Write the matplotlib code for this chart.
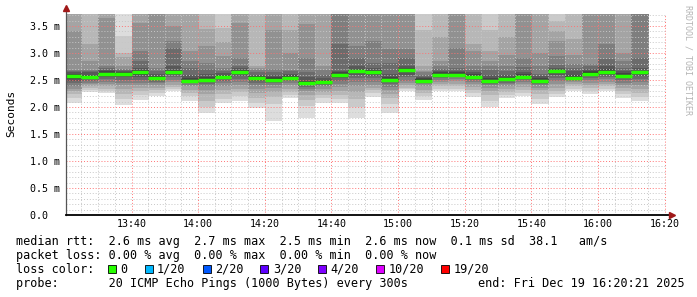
import datetime as dt

import matplotlib
matplotlib.use("Agg")
import matplotlib.pyplot as plt
import matplotlib.dates as mdates
from matplotlib.patches import Rectangle
from matplotlib.ticker import MultipleLocator, FuncFormatter
import numpy as np
import pandas as pd

# 20 sorted ping rtts (ms) for every 5 minute slot, first slot starts 13:20
pings = [
    [2.07, 2.17, 2.24, 2.30, 2.33, 2.38, 2.44, 2.48, 2.52, 2.56, 2.58, 2.61, 2.64, 2.67, 2.69, 3.41, 3.90, 4.10, 4.40, 4.80],
    [2.28, 2.31, 2.35, 2.38, 2.42, 2.45, 2.48, 2.51, 2.53, 2.55, 2.57, 2.60, 2.64, 2.67, 2.69, 2.85, 3.16, 3.90, 4.20, 4.60],
    [2.26, 2.30, 2.34, 2.38, 2.42, 2.47, 2.51, 2.55, 2.58, 2.61, 2.63, 2.66, 2.69, 2.72, 2.75, 3.65, 3.90, 4.10, 4.40, 4.70],
    [2.04, 2.15, 2.24, 2.33, 2.40, 2.44, 2.50, 2.55, 2.58, 2.60, 2.62, 2.64, 2.66, 2.68, 2.70, 2.76, 2.92, 3.00, 3.31, 3.90],
    [2.13, 2.23, 2.30, 2.36, 2.40, 2.45, 2.50, 2.55, 2.60, 2.63, 2.66, 2.69, 2.72, 2.85, 3.03, 3.56, 3.90, 4.10, 4.40, 4.80],
    [2.20, 2.26, 2.31, 2.36, 2.40, 2.44, 2.47, 2.50, 2.52, 2.53, 2.55, 2.58, 2.62, 2.66, 2.72, 3.90, 4.00, 4.20, 4.50, 4.90],
    [2.29, 2.33, 2.37, 2.41, 2.46, 2.50, 2.55, 2.59, 2.62, 2.64, 2.66, 2.69, 2.76, 3.10, 3.22, 3.50, 3.90, 4.10, 4.40, 4.80],
    [2.11, 2.20, 2.26, 2.32, 2.38, 2.41, 2.44, 2.46, 2.47, 2.48, 2.50, 2.53, 2.60, 2.72, 2.85, 3.03, 3.90, 4.10, 4.40, 4.80],
    [1.88, 2.00, 2.12, 2.24, 2.32, 2.38, 2.43, 2.46, 2.48, 2.50, 2.52, 2.56, 2.62, 2.70, 2.82, 3.13, 3.45, 3.90, 4.20, 4.60],
    [2.07, 2.15, 2.24, 2.32, 2.38, 2.44, 2.49, 2.52, 2.54, 2.56, 2.58, 2.60, 2.63, 2.67, 2.72, 2.95, 3.20, 3.46, 3.90, 4.40],
    [2.11, 2.20, 2.27, 2.34, 2.40, 2.46, 2.52, 2.57, 2.61, 2.64, 2.66, 2.68, 2.72, 2.75, 2.91, 3.56, 3.90, 4.10, 4.40, 4.80],
    [1.98, 2.08, 2.17, 2.26, 2.33, 2.40, 2.45, 2.49, 2.51, 2.53, 2.55, 2.57, 2.60, 2.64, 2.68, 2.72, 2.75, 3.90, 4.20, 4.60],
    [1.74, 2.05, 2.18, 2.28, 2.36, 2.41, 2.45, 2.48, 2.50, 2.51, 2.53, 2.56, 2.60, 2.64, 2.70, 3.43, 3.90, 4.10, 4.40, 4.80],
    [2.17, 2.22, 2.28, 2.34, 2.40, 2.45, 2.49, 2.51, 2.53, 2.54, 2.56, 2.59, 2.62, 2.66, 2.69, 3.00, 3.43, 3.90, 4.20, 4.60],
    [1.80, 2.02, 2.13, 2.22, 2.29, 2.33, 2.37, 2.40, 2.42, 2.44, 2.46, 2.49, 2.55, 2.64, 2.91, 3.53, 3.90, 4.10, 4.40, 4.80],
    [2.07, 2.16, 2.22, 2.28, 2.33, 2.38, 2.41, 2.43, 2.45, 2.46, 2.48, 2.50, 2.53, 2.60, 2.68, 2.75, 3.90, 4.10, 4.40, 4.80],
    [2.07, 2.15, 2.23, 2.30, 2.37, 2.43, 2.48, 2.53, 2.57, 2.59, 2.61, 2.64, 2.67, 3.16, 3.90, 4.00, 4.20, 4.40, 4.70, 5.00],
    [1.80, 2.00, 2.15, 2.28, 2.38, 2.46, 2.53, 2.59, 2.64, 2.66, 2.68, 2.71, 2.76, 2.90, 3.13, 3.90, 4.00, 4.20, 4.50, 4.90],
    [2.19, 2.26, 2.31, 2.36, 2.41, 2.47, 2.53, 2.58, 2.62, 2.64, 2.66, 2.69, 2.73, 2.82, 3.22, 3.90, 4.00, 4.20, 4.50, 4.90],
    [1.89, 2.05, 2.16, 2.24, 2.31, 2.37, 2.42, 2.46, 2.48, 2.50, 2.52, 2.55, 2.62, 2.82, 3.08, 3.90, 4.00, 4.20, 4.50, 4.90],
    [2.30, 2.33, 2.36, 2.40, 2.44, 2.49, 2.55, 2.60, 2.64, 2.67, 2.70, 2.73, 2.76, 2.91, 3.08, 3.90, 4.00, 4.20, 4.50, 4.90],
    [2.13, 2.20, 2.26, 2.32, 2.38, 2.42, 2.45, 2.47, 2.48, 2.49, 2.51, 2.53, 2.56, 2.60, 2.64, 2.67, 2.75, 3.43, 3.90, 4.50],
    [2.30, 2.34, 2.38, 2.42, 2.46, 2.50, 2.54, 2.57, 2.59, 2.60, 2.62, 2.64, 2.66, 2.70, 2.76, 2.86, 3.30, 3.90, 4.40, 4.80],
    [2.29, 2.33, 2.38, 2.43, 2.48, 2.52, 2.55, 2.57, 2.59, 2.60, 2.62, 2.64, 2.67, 2.72, 3.10, 3.90, 4.00, 4.20, 4.50, 4.90],
    [2.19, 2.26, 2.32, 2.37, 2.42, 2.46, 2.50, 2.53, 2.55, 2.56, 2.58, 2.61, 2.64, 2.69, 2.75, 3.03, 3.17, 3.90, 4.30, 4.70],
    [2.00, 2.12, 2.22, 2.30, 2.36, 2.40, 2.43, 2.45, 2.47, 2.48, 2.50, 2.53, 2.60, 2.68, 2.75, 2.85, 3.03, 3.43, 3.90, 4.50],
    [2.17, 2.23, 2.28, 2.33, 2.38, 2.42, 2.45, 2.48, 2.50, 2.51, 2.53, 2.56, 2.60, 2.66, 2.76, 2.97, 3.30, 3.90, 4.20, 4.50],
    [2.20, 2.26, 2.32, 2.37, 2.42, 2.46, 2.50, 2.53, 2.55, 2.56, 2.58, 2.61, 2.65, 2.74, 2.91, 3.90, 4.00, 4.20, 4.50, 4.90],
    [2.06, 2.15, 2.24, 2.31, 2.36, 2.40, 2.43, 2.45, 2.47, 2.48, 2.50, 2.53, 2.57, 2.62, 2.75, 3.00, 3.90, 4.10, 4.40, 4.80],
    [2.19, 2.24, 2.30, 2.36, 2.42, 2.48, 2.54, 2.59, 2.63, 2.66, 2.68, 2.70, 2.73, 2.78, 2.94, 3.22, 3.41, 3.59, 3.90, 4.50],
    [2.30, 2.34, 2.38, 2.42, 2.46, 2.49, 2.51, 2.52, 2.53, 2.54, 2.56, 2.60, 2.66, 2.72, 2.79, 2.97, 3.25, 3.90, 4.20, 4.60],
    [2.24, 2.30, 2.35, 2.40, 2.45, 2.50, 2.54, 2.57, 2.60, 2.62, 2.64, 2.66, 2.70, 2.76, 2.79, 3.90, 4.00, 4.20, 4.50, 4.90],
    [2.30, 2.34, 2.38, 2.42, 2.46, 2.51, 2.56, 2.60, 2.63, 2.65, 2.67, 2.70, 2.76, 2.88, 3.16, 3.90, 4.00, 4.20, 4.50, 4.90],
    [2.17, 2.24, 2.30, 2.35, 2.40, 2.45, 2.50, 2.54, 2.56, 2.58, 2.60, 2.63, 2.67, 2.72, 2.85, 3.00, 3.90, 4.10, 4.40, 4.80],
    [2.11, 2.19, 2.26, 2.33, 2.40, 2.46, 2.52, 2.57, 2.61, 2.63, 2.65, 2.67, 2.72, 2.91, 3.90, 4.00, 4.20, 4.40, 4.70, 5.00],
]

median_rtt = [2.57, 2.556, 2.62, 2.61, 2.65, 2.53, 2.65, 2.48, 2.50,
              2.56, 2.65, 2.53, 2.50, 2.54, 2.44, 2.46, 2.60, 2.67,
              2.65, 2.50, 2.69, 2.49, 2.60, 2.60, 2.56, 2.48, 2.51,
              2.56, 2.48, 2.67, 2.54, 2.62, 2.65, 2.58, 2.64]

slot_start = pd.date_range("2025-12-19 13:20", periods=len(pings), freq="5min")

loss_labels = ["0", "1/20", "2/20", "3/20", "4/20", "10/20", "19/20"]
loss_colors = ["#26ff00", "#00b8ff", "#0059ff", "#5e00ff", "#7e00ff", "#dd00ff", "#ff0000"]

legend_lines = [
    "median rtt:  2.6 ms avg  2.7 ms max  2.5 ms min  2.6 ms now  0.1 ms sd  38.1   am/s",
    "packet loss: 0.00 % avg  0.00 % max  0.00 % min  0.00 % now",
    "loss color:",
    "probe:       20 ICMP Echo Pings (1000 Bytes) every 300s",
]
end_label = "end: Fri Dec 19 16:20:21 2025"

t_start = dt.datetime(2025, 12, 19, 13, 20, 21)
t_end = dt.datetime(2025, 12, 19, 16, 20, 21)

MONO = "DejaVu Sans Mono"
W, H = 697, 297
fig = plt.figure(figsize=(W / 100, H / 100), dpi=100)
ax = fig.add_axes([66 / W, 82 / H, 600 / W, 201 / H])

p = np.array(pings)
x0 = mdates.date2num(slot_start.to_pydatetime())
wid = 5 / 1440

# smoke: outer pairs light, inner pairs dark (smokeping style)
half = p.shape[1] // 2
for i in range(1, half + 1):
    g = int(190 / half * (half - i)) + 50
    lo = p[:, i - 1]
    hi = p[:, p.shape[1] - i]
    ax.bar(x0, hi - lo, bottom=lo, width=wid * 1.04, align="edge",
           color="#%02x%02x%02x" % (g, g, g), linewidth=0, zorder=1)

ax.hlines(median_rtt, x0, x0 + wid, colors=loss_colors[0], linewidth=2.5, zorder=3)

ax.set_xlim(t_start, t_end)
ax.set_ylim(0, 3.722)
ax.xaxis.set_major_locator(mdates.MinuteLocator(byminute=[0, 20, 40]))
ax.xaxis.set_minor_locator(mdates.MinuteLocator(byminute=range(0, 60, 5)))
ax.xaxis.set_major_formatter(mdates.DateFormatter("%H:%M"))
ax.yaxis.set_major_locator(MultipleLocator(0.5))
ax.yaxis.set_minor_locator(MultipleLocator(0.1))
ax.yaxis.set_major_formatter(FuncFormatter(lambda v, _: "0.0  " if abs(v) < 1e-9 else "%.1f m" % v))

ax.set_axisbelow(False)
ax.grid(which="minor", color=(0.78, 0.78, 0.78, 0.6), linestyle=(0, (1, 2)), linewidth=0.7)
ax.grid(which="major", color=(1.0, 0.45, 0.45, 0.55), linestyle=(0, (1, 2)), linewidth=0.7)

for s in ax.spines.values():
    s.set_visible(False)
ax.tick_params(which="both", length=0)
ax.tick_params(axis="y", pad=4.3, labelsize=7.2)
ax.tick_params(axis="x", pad=3, labelsize=7.2)
for lab in ax.get_xticklabels() + ax.get_yticklabels():
    lab.set_family(MONO)

# axis lines with arrow heads
ax.plot([0, 0], [0, 1.025], transform=ax.transAxes, color="#555555", lw=0.9, clip_on=False, zorder=4)
ax.plot([0, 1.008], [0, 0], transform=ax.transAxes, color="black", lw=1.3, clip_on=False, zorder=4)
ax.plot([0], [1.03], transform=ax.transAxes, marker="^", ms=4, color="#a01818", clip_on=False, zorder=5)
ax.plot([1.01], [0], transform=ax.transAxes, marker=">", ms=4, color="#a01818", clip_on=False, zorder=5)

fig.text(11 / W, 1 - 113 / H, "Seconds", rotation=90, family=MONO, fontsize=8,
         ha="center", va="center")
fig.text(688 / W, 1 - 60 / H, "RRDTOOL / TOBI OETIKER", rotation=270, family=MONO,
         fontsize=6, color="#b4b4b4", ha="center", va="center")

# legend block
line_y = [241, 255.2, 269.4, 283.6]
for txt, y in zip(legend_lines, line_y):
    fig.text(16 / W, 1 - y / H, txt, family=MONO, fontsize=8.5, ha="left", va="center")
fig.text(478 / W, 1 - line_y[3] / H, end_label, family=MONO, fontsize=8.5, ha="left", va="center")

cw = 7.1
bx = 108
by = line_y[2]
for lab, col in zip(loss_labels, loss_colors):
    fig.patches.append(Rectangle((bx / W, 1 - (by + 4) / H), 8 / W, 8 / H, transform=fig.transFigure,
                                 facecolor=col, edgecolor="black", linewidth=0.6))
    fig.text((bx + 12.5) / W, 1 - by / H, lab, family=MONO, fontsize=8.5, ha="left", va="center")
    bx = bx + 12.5 + len(lab) * cw + 17

fig.savefig("out.png", dpi=100)
